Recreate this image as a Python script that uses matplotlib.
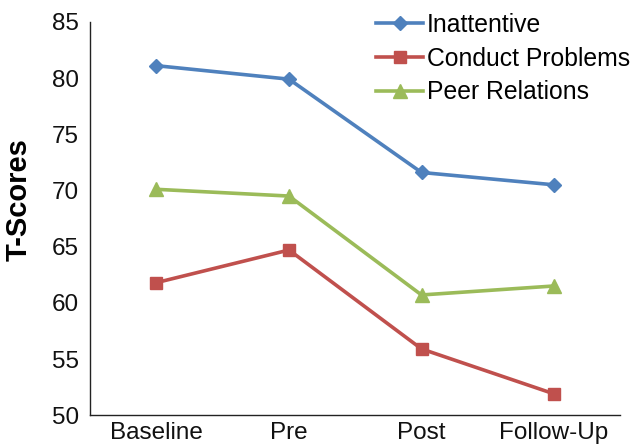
import matplotlib
matplotlib.use("Agg")
import matplotlib.pyplot as plt

plt.rcParams['font.family'] = ['Liberation Sans', 'DejaVu Sans']

# data
phases = ['Baseline', 'Pre', 'Post', 'Follow-Up']
inattentive = [81.1, 79.9, 71.6, 70.5]
conduct = [61.8, 64.7, 55.9, 51.9]
peer = [70.1, 69.5, 60.7, 61.5]

fig = plt.figure(figsize=(6.31, 4.46), dpi=100)
ax = fig.add_axes([0.143, 0.069, 0.840, 0.882])

x = range(len(phases))
ax.plot(x, inattentive, color='#4F81BD', lw=2.6, marker='D', ms=7.5, label='Inattentive')
ax.plot(x, conduct, color='#C0504D', lw=2.6, marker='s', ms=8.5, label='Conduct Problems')
ax.plot(x, peer, color='#9BBB59', lw=2.6, marker='^', ms=9.5, label='Peer Relations')

ax.set_xlim(-0.5, 3.5)
ax.set_ylim(50, 85)
ax.set_yticks(range(50, 86, 5))
ax.set_xticks(list(x))
ax.set_xticklabels(phases)
ax.tick_params(length=0, labelsize=17.5, colors='#111111')
ax.tick_params(axis='y', pad=8)
ax.tick_params(axis='x', pad=5)

for s in ['top', 'right']:
    ax.spines[s].set_visible(False)
for s in ['left', 'bottom']:
    ax.spines[s].set_linewidth(1.0)
    ax.spines[s].set_color('#222222')

ax.set_ylabel('T-Scores', fontsize=21, fontweight='bold')
ax.yaxis.set_label_coords(-0.108, 0.547)

ax.legend(loc='upper right', bbox_to_anchor=(1.06, 1.08), frameon=False,
          fontsize=17.8, handlelength=1.9, handletextpad=0.15, labelspacing=0.4)

fig.savefig('out.png', dpi=100)
